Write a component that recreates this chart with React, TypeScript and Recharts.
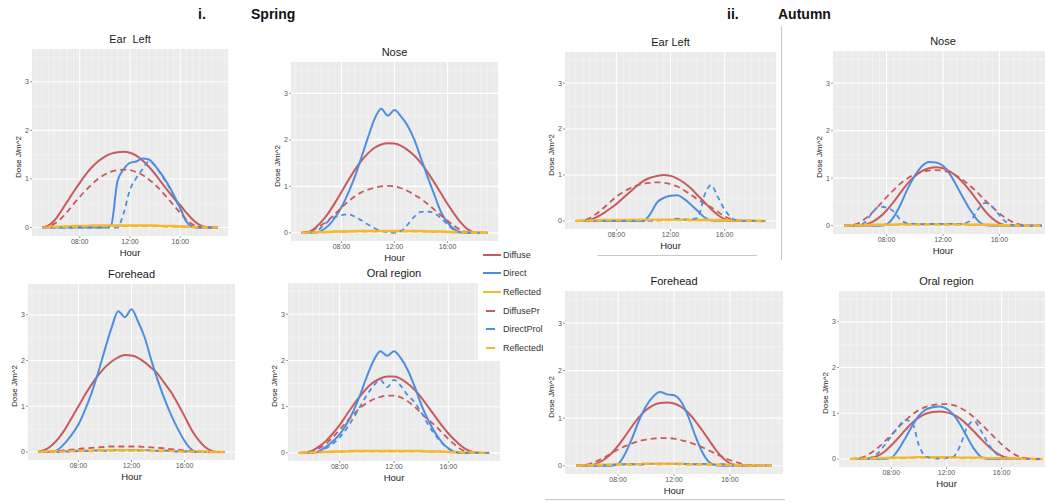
import React from 'react';
import { LineChart, Line, XAxis, YAxis, CartesianGrid } from 'recharts';

// ---------- shared axis data ----------
const HOURS = [5, 5.5, 6, 6.5, 7, 7.5, 8, 8.5, 9, 9.5, 10, 10.5, 11, 11.5, 12, 12.5, 13, 13.5, 14, 14.5, 15, 15.5, 16, 16.5, 17, 17.5, 18, 18.5, 19];
const X_TICKS = [8, 12, 16];
const X_TICK_LABELS = ['08:00', '12:00', '16:00'];
const Y_TICKS = [0, 1, 2, 3];
const MINOR_X = [4.5, 5, 5.5, 6, 6.5, 7, 7.5, 8.5, 9, 9.5, 10, 10.5, 11, 11.5, 12.5, 13, 13.5, 14, 14.5, 15, 15.5, 16.5, 17, 17.5, 18, 18.5, 19, 19.5];
const MINOR_Y = [0.5, 1.5, 2.5, 3.5];
const SERIES_LABELS = ['Diffuse', 'Direct', 'Reflected', 'DiffusePr', 'DirectProl', 'ReflectedI'];

// ---------- Spring: Ear Left ----------
const springEarDiffuse = [0, 0.04, 0.15, 0.33, 0.53, 0.73, 0.92, 1.1, 1.25, 1.37, 1.46, 1.52, 1.55, 1.56, 1.54, 1.48, 1.38, 1.25, 1.1, 0.93, 0.76, 0.6, 0.46, 0.3, 0.16, 0.06, 0.01, 0, 0];
const springEarDirect = [0, 0, 0, 0, 0, 0, 0, 0, 0, 0, 0, 0.05, 0.95, 1.2, 1.33, 1.36, 1.42, 1.4, 1.27, 1.1, 0.9, 0.66, 0.4, 0.12, 0.01, 0, 0, 0, 0];
const springEarReflected = [0, 0.01, 0.01, 0.02, 0.02, 0.03, 0.03, 0.03, 0.04, 0.04, 0.04, 0.04, 0.04, 0.04, 0.04, 0.04, 0.04, 0.04, 0.04, 0.03, 0.03, 0.03, 0.02, 0.02, 0.01, 0.01, 0.01, 0, 0];
const springEarDiffusePr = [0, 0.02, 0.08, 0.18, 0.32, 0.48, 0.63, 0.77, 0.9, 1.01, 1.09, 1.15, 1.18, 1.19, 1.18, 1.14, 1.08, 0.99, 0.88, 0.75, 0.6, 0.45, 0.3, 0.16, 0.06, 0.01, 0, 0, 0];
const springEarDirectPr = [0, 0, 0, 0, 0, 0, 0, 0, 0, 0, 0, 0, 0, 0.3, 0.78, 1.02, 1.2, 1.36, 1.27, 1.08, 0.88, 0.64, 0.38, 0.12, 0.02, 0, 0, 0, 0];
const springEarReflectedPr = [0, 0, 0.01, 0.01, 0.02, 0.02, 0.02, 0.03, 0.03, 0.03, 0.03, 0.03, 0.03, 0.03, 0.03, 0.03, 0.03, 0.03, 0.03, 0.03, 0.02, 0.02, 0.02, 0.01, 0.01, 0.01, 0, 0, 0];

// ---------- Spring: Nose ----------
const springNoseDiffuse = [0, 0.02, 0.1, 0.24, 0.42, 0.64, 0.88, 1.12, 1.35, 1.55, 1.71, 1.83, 1.9, 1.93, 1.92, 1.87, 1.78, 1.66, 1.5, 1.3, 1.08, 0.85, 0.62, 0.41, 0.22, 0.08, 0.01, 0, 0];
const springNoseDirect = [0, 0, 0, 0.05, 0.15, 0.32, 0.55, 0.85, 1.2, 1.62, 2.05, 2.45, 2.67, 2.52, 2.64, 2.5, 2.3, 2.0, 1.6, 1.2, 0.82, 0.45, 0.22, 0.08, 0.01, 0, 0, 0, 0];
const springNoseReflected = [0, 0.01, 0.01, 0.02, 0.02, 0.03, 0.03, 0.03, 0.04, 0.04, 0.04, 0.04, 0.04, 0.04, 0.04, 0.04, 0.04, 0.04, 0.04, 0.03, 0.03, 0.03, 0.02, 0.02, 0.01, 0.01, 0.01, 0, 0];
const springNoseDiffusePr = [0, 0.02, 0.08, 0.17, 0.27, 0.4, 0.54, 0.67, 0.78, 0.87, 0.93, 0.97, 1.0, 1.01, 1.0, 0.96, 0.9, 0.82, 0.73, 0.62, 0.5, 0.38, 0.26, 0.15, 0.06, 0.01, 0, 0, 0];
const springNoseDirectPr = [0, 0, 0.02, 0.12, 0.25, 0.34, 0.38, 0.4, 0.35, 0.27, 0.18, 0.1, 0.04, 0.01, 0, 0.04, 0.18, 0.35, 0.45, 0.46, 0.42, 0.32, 0.18, 0.06, 0.01, 0, 0, 0, 0];
const springNoseReflectedPr = [0, 0, 0.01, 0.01, 0.02, 0.02, 0.02, 0.03, 0.03, 0.03, 0.03, 0.03, 0.03, 0.03, 0.03, 0.03, 0.03, 0.03, 0.03, 0.03, 0.02, 0.02, 0.02, 0.01, 0.01, 0.01, 0, 0, 0];

// ---------- Spring: Forehead ----------
const springForeDiffuse = [0.01, 0.05, 0.15, 0.3, 0.5, 0.75, 1.0, 1.25, 1.48, 1.68, 1.85, 1.98, 2.07, 2.12, 2.11, 2.06, 1.96, 1.84, 1.7, 1.5, 1.3, 1.05, 0.78, 0.5, 0.28, 0.12, 0.03, 0, 0];
const springForeDirect = [0, 0, 0, 0.06, 0.2, 0.38, 0.6, 0.92, 1.3, 1.75, 2.25, 2.72, 3.08, 2.95, 3.12, 2.85, 2.5, 2.0, 1.55, 1.15, 0.8, 0.5, 0.24, 0.06, 0, 0, 0, 0, 0];
const springForeReflected = [0, 0.01, 0.01, 0.02, 0.02, 0.03, 0.03, 0.03, 0.03, 0.04, 0.04, 0.04, 0.04, 0.04, 0.04, 0.04, 0.04, 0.03, 0.03, 0.03, 0.03, 0.02, 0.02, 0.02, 0.01, 0.01, 0, 0, 0];
const springForeDiffusePr = [0, 0, 0.01, 0.02, 0.04, 0.05, 0.07, 0.08, 0.09, 0.1, 0.11, 0.12, 0.12, 0.12, 0.12, 0.12, 0.11, 0.1, 0.09, 0.08, 0.06, 0.05, 0.03, 0.02, 0.01, 0, 0, 0, 0];
const springForeDirectPr = [0, 0, 0, 0, 0.01, 0.01, 0.02, 0.02, 0.03, 0.03, 0.02, 0.03, 0.04, 0.03, 0.04, 0.03, 0.04, 0.03, 0.02, 0.03, 0.02, 0.01, 0.01, 0, 0, 0, 0, 0, 0];
const springForeReflectedPr = [0, 0, 0.01, 0.01, 0.01, 0.02, 0.02, 0.02, 0.02, 0.03, 0.03, 0.03, 0.03, 0.03, 0.03, 0.03, 0.03, 0.02, 0.02, 0.02, 0.02, 0.02, 0.01, 0.01, 0.01, 0, 0, 0, 0];

// ---------- Spring: Oral region ----------
const springOralDiffuse = [0, 0.01, 0.05, 0.14, 0.26, 0.42, 0.6, 0.82, 1.03, 1.23, 1.4, 1.53, 1.61, 1.65, 1.65, 1.6, 1.5, 1.37, 1.2, 1.0, 0.8, 0.6, 0.42, 0.27, 0.14, 0.05, 0.01, 0, 0];
const springOralDirect = [0, 0, 0, 0.04, 0.13, 0.25, 0.4, 0.62, 0.9, 1.25, 1.65, 2.0, 2.2, 2.1, 2.2, 2.05, 1.8, 1.45, 1.05, 0.72, 0.45, 0.24, 0.1, 0.02, 0, 0, 0, 0, 0];
const springOralReflected = [0, 0.01, 0.01, 0.02, 0.02, 0.03, 0.03, 0.03, 0.04, 0.04, 0.04, 0.04, 0.04, 0.04, 0.04, 0.04, 0.04, 0.04, 0.04, 0.03, 0.03, 0.03, 0.02, 0.02, 0.01, 0.01, 0.01, 0, 0];
const springOralDiffusePr = [0, 0.01, 0.04, 0.1, 0.2, 0.34, 0.5, 0.67, 0.83, 0.97, 1.08, 1.16, 1.21, 1.24, 1.24, 1.2, 1.12, 1.0, 0.86, 0.72, 0.6, 0.45, 0.3, 0.17, 0.07, 0.01, 0, 0, 0];
const springOralDirectPr = [0, 0, 0, 0.03, 0.1, 0.2, 0.33, 0.52, 0.75, 1.0, 1.25, 1.45, 1.58, 1.42, 1.58, 1.45, 1.25, 1.1, 0.88, 0.62, 0.4, 0.22, 0.09, 0.02, 0, 0, 0, 0, 0];
const springOralReflectedPr = [0, 0, 0.01, 0.01, 0.02, 0.02, 0.02, 0.03, 0.03, 0.03, 0.03, 0.03, 0.03, 0.03, 0.03, 0.03, 0.03, 0.03, 0.03, 0.03, 0.02, 0.02, 0.02, 0.01, 0.01, 0.01, 0, 0, 0];

// ---------- Autumn: Ear Left ----------
const autumnEarDiffuse = [0, 0, 0.02, 0.08, 0.16, 0.26, 0.37, 0.5, 0.63, 0.76, 0.87, 0.94, 0.98, 1.0, 0.98, 0.92, 0.83, 0.71, 0.56, 0.41, 0.26, 0.13, 0.04, 0.01, 0, 0, 0, 0, 0];
const autumnEarDirect = [0, 0, 0, 0, 0, 0, 0, 0, 0, 0, 0, 0.15, 0.4, 0.5, 0.55, 0.56, 0.48, 0.36, 0.22, 0.08, 0.01, 0, 0, 0, 0, 0, 0, 0, 0];
const autumnEarReflected = [0, 0.01, 0.01, 0.01, 0.02, 0.02, 0.02, 0.02, 0.02, 0.03, 0.03, 0.03, 0.03, 0.03, 0.03, 0.03, 0.03, 0.02, 0.02, 0.02, 0.02, 0.02, 0.01, 0.01, 0.01, 0.01, 0.01, 0, 0];
const autumnEarDiffusePr = [0, 0.01, 0.06, 0.15, 0.27, 0.4, 0.53, 0.63, 0.71, 0.77, 0.81, 0.83, 0.84, 0.83, 0.8, 0.75, 0.67, 0.57, 0.47, 0.38, 0.3, 0.2, 0.1, 0.04, 0.01, 0, 0, 0, 0];
const autumnEarDirectPr = [0, 0, 0, 0, 0, 0, 0, 0, 0, 0, 0, 0, 0.01, 0.02, 0.03, 0.05, 0.03, 0.04, 0.06, 0.55, 0.78, 0.52, 0.25, 0.07, 0.01, 0, 0, 0, 0];
const autumnEarReflectedPr = [0, 0, 0.01, 0.01, 0.01, 0.02, 0.02, 0.02, 0.02, 0.02, 0.02, 0.02, 0.02, 0.02, 0.02, 0.02, 0.02, 0.02, 0.02, 0.02, 0.02, 0.01, 0.01, 0.01, 0.01, 0, 0, 0, 0];

// ---------- Autumn: Nose ----------
const autumnNoseDiffuse = [0, 0, 0, 0.02, 0.08, 0.18, 0.32, 0.5, 0.7, 0.89, 1.04, 1.15, 1.21, 1.23, 1.21, 1.14, 1.03, 0.88, 0.7, 0.5, 0.3, 0.15, 0.05, 0.01, 0, 0, 0, 0, 0];
const autumnNoseDirect = [0, 0, 0, 0, 0, 0, 0.03, 0.18, 0.45, 0.78, 1.05, 1.25, 1.34, 1.33, 1.26, 1.08, 0.82, 0.55, 0.3, 0.1, 0.01, 0, 0, 0, 0, 0, 0, 0, 0];
const autumnNoseReflected = [0, 0.01, 0.01, 0.01, 0.02, 0.02, 0.02, 0.02, 0.03, 0.03, 0.03, 0.03, 0.03, 0.03, 0.03, 0.03, 0.03, 0.03, 0.02, 0.02, 0.02, 0.02, 0.01, 0.01, 0.01, 0.01, 0.01, 0, 0];
const autumnNoseDiffusePr = [0, 0.01, 0.05, 0.15, 0.28, 0.44, 0.6, 0.75, 0.89, 1.0, 1.08, 1.13, 1.16, 1.17, 1.16, 1.12, 1.04, 0.94, 0.82, 0.68, 0.53, 0.39, 0.26, 0.15, 0.07, 0.02, 0, 0, 0];
const autumnNoseDirectPr = [0, 0, 0.01, 0.08, 0.28, 0.4, 0.38, 0.3, 0.12, 0.05, 0.04, 0.03, 0.04, 0.03, 0.04, 0.04, 0.03, 0.05, 0.12, 0.35, 0.48, 0.4, 0.22, 0.07, 0.01, 0, 0, 0, 0];
const autumnNoseReflectedPr = [0, 0, 0.01, 0.01, 0.01, 0.02, 0.02, 0.02, 0.02, 0.02, 0.02, 0.02, 0.02, 0.02, 0.02, 0.02, 0.02, 0.02, 0.02, 0.02, 0.02, 0.01, 0.01, 0.01, 0.01, 0, 0, 0, 0];

// ---------- Autumn: Forehead ----------
const autumnForeDiffuse = [0, 0, 0.01, 0.05, 0.13, 0.25, 0.42, 0.62, 0.83, 1.02, 1.17, 1.27, 1.32, 1.33, 1.31, 1.24, 1.12, 0.95, 0.75, 0.54, 0.33, 0.16, 0.05, 0.01, 0, 0, 0, 0, 0];
const autumnForeDirect = [0, 0, 0, 0, 0, 0, 0.04, 0.25, 0.58, 0.95, 1.25, 1.45, 1.55, 1.5, 1.48, 1.35, 1.05, 0.65, 0.3, 0.08, 0.01, 0, 0, 0, 0, 0, 0, 0, 0];
const autumnForeReflected = [0, 0.01, 0.01, 0.02, 0.02, 0.02, 0.03, 0.03, 0.03, 0.03, 0.04, 0.04, 0.04, 0.04, 0.04, 0.04, 0.03, 0.03, 0.03, 0.03, 0.02, 0.02, 0.02, 0.01, 0.01, 0.01, 0.01, 0, 0];
const autumnForeDiffusePr = [0, 0.01, 0.04, 0.1, 0.17, 0.26, 0.34, 0.41, 0.47, 0.52, 0.55, 0.57, 0.58, 0.58, 0.57, 0.54, 0.5, 0.45, 0.39, 0.32, 0.25, 0.18, 0.12, 0.07, 0.03, 0.01, 0, 0, 0];
const autumnForeDirectPr = [0, 0, 0, 0, 0.01, 0.02, 0.02, 0.03, 0.03, 0.02, 0.03, 0.04, 0.03, 0.04, 0.04, 0.03, 0.04, 0.03, 0.04, 0.03, 0.02, 0.03, 0.02, 0.01, 0.01, 0, 0, 0, 0];
const autumnForeReflectedPr = [0, 0, 0.01, 0.01, 0.01, 0.02, 0.02, 0.02, 0.02, 0.03, 0.03, 0.03, 0.03, 0.03, 0.03, 0.03, 0.02, 0.02, 0.02, 0.02, 0.02, 0.02, 0.01, 0.01, 0.01, 0, 0, 0, 0];

// ---------- Autumn: Oral region ----------
const autumnOralDiffuse = [0, 0, 0, 0.02, 0.07, 0.16, 0.3, 0.46, 0.63, 0.79, 0.91, 0.99, 1.03, 1.04, 1.02, 0.97, 0.88, 0.75, 0.6, 0.44, 0.29, 0.16, 0.07, 0.02, 0, 0, 0, 0, 0];
const autumnOralDirect = [0, 0, 0, 0, 0, 0, 0.03, 0.2, 0.45, 0.72, 0.95, 1.08, 1.13, 1.15, 1.1, 0.97, 0.75, 0.48, 0.22, 0.05, 0, 0, 0, 0, 0, 0, 0, 0, 0];
const autumnOralReflected = [0, 0.01, 0.01, 0.02, 0.02, 0.02, 0.03, 0.03, 0.03, 0.03, 0.04, 0.04, 0.04, 0.04, 0.04, 0.04, 0.03, 0.03, 0.03, 0.03, 0.02, 0.02, 0.02, 0.01, 0.01, 0.01, 0.01, 0, 0];
const autumnOralDiffusePr = [0, 0.01, 0.05, 0.13, 0.24, 0.38, 0.53, 0.69, 0.84, 0.97, 1.07, 1.14, 1.18, 1.2, 1.2, 1.18, 1.12, 1.03, 0.91, 0.77, 0.62, 0.47, 0.32, 0.19, 0.09, 0.03, 0, 0, 0];
const autumnOralDirectPr = [0, 0, 0, 0.03, 0.12, 0.3, 0.5, 0.7, 0.85, 0.8, 0.3, 0.05, 0.02, 0.01, 0.02, 0.05, 0.3, 0.7, 0.83, 0.62, 0.35, 0.15, 0.04, 0, 0, 0, 0, 0, 0];
const autumnOralReflectedPr = [0, 0, 0.01, 0.01, 0.01, 0.02, 0.02, 0.02, 0.02, 0.03, 0.03, 0.03, 0.03, 0.03, 0.03, 0.03, 0.02, 0.02, 0.02, 0.02, 0.02, 0.02, 0.01, 0.01, 0.01, 0, 0, 0, 0];

// ---------- styling / layout ----------
const X_DOMAIN: [number, number] = [4.2, 19.8];
const Y_DOMAIN: [number, number] = [-0.175, 3.675];
const RED = '#C95A5D';
const BLUE = '#4C8FE2';
const YELLOW = '#F5B82E';
const FONT = '"Liberation Sans", Arial, "DejaVu Sans", sans-serif';

const SERIES_STYLE = [
  { key: 'diffuse', color: RED, dash: undefined, width: 2 },
  { key: 'direct', color: BLUE, dash: undefined, width: 2 },
  { key: 'reflected', color: YELLOW, dash: undefined, width: 2.4 },
  { key: 'diffusePr', color: RED, dash: '6 4', width: 1.8 },
  { key: 'directPr', color: BLUE, dash: '5 4', width: 1.8 },
  { key: 'reflectedPr', color: YELLOW, dash: '6 4', width: 2.2 },
];

type SeriesSet = number[][];

const PANELS: { title: string; L: number; T: number; W: number; H: number; series: SeriesSet }[] = [
  { title: 'Ear  Left', L: 32, T: 49, W: 196, H: 187, series: [springEarDiffuse, springEarDirect, springEarReflected, springEarDiffusePr, springEarDirectPr, springEarReflectedPr] },
  { title: 'Nose', L: 291, T: 62, W: 207, H: 179, series: [springNoseDiffuse, springNoseDirect, springNoseReflected, springNoseDiffusePr, springNoseDirectPr, springNoseReflectedPr] },
  { title: 'Forehead', L: 28, T: 284, W: 207, H: 176, series: [springForeDiffuse, springForeDirect, springForeReflected, springForeDiffusePr, springForeDirectPr, springForeReflectedPr] },
  { title: 'Oral region', L: 288, T: 283, W: 212, H: 178, series: [springOralDiffuse, springOralDirect, springOralReflected, springOralDiffusePr, springOralDirectPr, springOralReflectedPr] },
  { title: 'Ear Left', L: 565, T: 52, W: 211, H: 177, series: [autumnEarDiffuse, autumnEarDirect, autumnEarReflected, autumnEarDiffusePr, autumnEarDirectPr, autumnEarReflectedPr] },
  { title: 'Nose', L: 833, T: 51, W: 220, H: 183, series: [autumnNoseDiffuse, autumnNoseDirect, autumnNoseReflected, autumnNoseDiffusePr, autumnNoseDirectPr, autumnNoseReflectedPr] },
  { title: 'Forehead', L: 565, T: 291, W: 218, H: 183, series: [autumnForeDiffuse, autumnForeDirect, autumnForeReflected, autumnForeDiffusePr, autumnForeDirectPr, autumnForeReflectedPr] },
  { title: 'Oral region', L: 839, T: 291, W: 215, H: 176, series: [autumnOralDiffuse, autumnOralDirect, autumnOralReflected, autumnOralDiffusePr, autumnOralDirectPr, autumnOralReflectedPr] },
];

const PAD_L = 30;
const PAD_T = 4;
const PAD_R = 4;
const PAD_B = 14;

function fmtHour(v: number) {
  const i = X_TICKS.indexOf(v);
  return i >= 0 ? X_TICK_LABELS[i] : '';
}

function Panel({ p }: { p: (typeof PANELS)[number] }) {
  const rows = HOURS.map((h, i) => {
    const r: Record<string, number> = { h };
    SERIES_STYLE.forEach((s, k) => {
      r[s.key] = p.series[k][i];
    });
    return r;
  });
  const cw = p.W + PAD_L + PAD_R;
  const ch = p.H + PAD_T + PAD_B;
  return (
    <>
      <div
        style={{
          position: 'absolute',
          left: p.L,
          width: p.W,
          top: p.T - 16,
          textAlign: 'center',
          fontSize: 11,
          color: '#1a1a1a',
          fontFamily: FONT,
          whiteSpace: 'pre',
        }}
      >
        {p.title}
      </div>
      <div style={{ position: 'absolute', left: p.L - PAD_L, top: p.T - PAD_T }}>
        <LineChart width={cw} height={ch} data={rows} margin={{ top: PAD_T, right: PAD_R, left: 0, bottom: 0 }}>
          <CartesianGrid
            fill="#EBEBEB"
            stroke="#F7F7F7"
            strokeWidth={0.6}
            horizontalValues={MINOR_Y}
            verticalValues={MINOR_X}
          />
          <CartesianGrid stroke="#FFFFFF" strokeWidth={1.1} horizontalValues={Y_TICKS} verticalValues={X_TICKS} />
          <XAxis
            type="number"
            dataKey="h"
            domain={X_DOMAIN}
            ticks={X_TICKS}
            interval={0}
            tickFormatter={fmtHour}
            allowDataOverflow
            axisLine={false}
            tickSize={2}
            tickMargin={1}
            height={PAD_B}
            tickLine={{ stroke: '#555', strokeWidth: 0.6 }}
            tick={{ fontSize: 7, fill: '#555', fontFamily: FONT }}
          />
          <YAxis
            type="number"
            domain={Y_DOMAIN}
            ticks={Y_TICKS}
            interval={0}
            allowDataOverflow
            axisLine={false}
            tickSize={2}
            tickMargin={1}
            width={PAD_L}
            tickLine={{ stroke: '#555', strokeWidth: 0.6 }}
            tick={{ fontSize: 7, fill: '#555', fontFamily: FONT }}
          />
          {SERIES_STYLE.map((s) => (
            <Line
              key={s.key}
              type="monotone"
              dataKey={s.key}
              stroke={s.color}
              strokeWidth={s.width}
              strokeDasharray={s.dash}
              dot={false}
              activeDot={false}
              isAnimationActive={false}
            />
          ))}
        </LineChart>
      </div>
      <div
        style={{
          position: 'absolute',
          left: p.L,
          width: p.W,
          top: p.T + p.H + 11,
          textAlign: 'center',
          fontSize: 9.5,
          color: '#1a1a1a',
          fontFamily: FONT,
        }}
      >
        Hour
      </div>
      <div
        style={{
          position: 'absolute',
          left: p.L - 13 - 50,
          width: 100,
          top: p.T + p.H * 0.58 - 6,
          textAlign: 'center',
          fontSize: 8,
          color: '#1a1a1a',
          fontFamily: FONT,
          transform: 'rotate(-90deg)',
          transformOrigin: '50% 50%',
          lineHeight: '12px',
        }}
      >
        Dose J/m^2
      </div>
    </>
  );
}

function Legend() {
  const rowsY = [255, 273, 292, 311, 329, 348];
  return (
    <div
      style={{
        position: 'absolute',
        left: 478,
        top: 241,
        width: 70,
        height: 120,
        background: '#FFFFFF',
        overflow: 'hidden',
      }}
    >
      {SERIES_STYLE.map((s, i) => (
        <div key={s.key} style={{ position: 'absolute', left: 0, top: rowsY[i] - 241 - 7, height: 14, width: 70 }}>
          <svg width={22} height={14} style={{ position: 'absolute', left: 3, top: 0 }}>
            {s.dash ? (
              <line x1={5} y1={7} x2={14} y2={7} stroke={s.color} strokeWidth={2} />
            ) : (
              <line x1={2} y1={7} x2={20} y2={7} stroke={s.color} strokeWidth={2} />
            )}
          </svg>
          <div
            style={{
              position: 'absolute',
              left: 25,
              top: 0,
              lineHeight: '14px',
              fontSize: 9,
              color: '#333',
              fontFamily: FONT,
              whiteSpace: 'nowrap',
            }}
          >
            {SERIES_LABELS[i]}
          </div>
        </div>
      ))}
    </div>
  );
}

export default function App() {
  return (
    <div
      style={{
        position: 'absolute',
        left: 0,
        top: 0,
        width: 1045,
        height: 502,
        background: '#FFFFFF',
        overflow: 'hidden',
        fontFamily: FONT,
      }}
    >
      {PANELS.map((p, i) => (
        <Panel key={i} p={p} />
      ))}
      <Legend />
      {/* section headers */}
      <div style={{ position: 'absolute', left: 198, top: 6, fontSize: 14, fontWeight: 700, color: '#111', fontFamily: FONT }}>i.</div>
      <div style={{ position: 'absolute', left: 251, top: 6, fontSize: 14, fontWeight: 700, color: '#111', fontFamily: FONT }}>Spring</div>
      <div style={{ position: 'absolute', left: 727, top: 6, fontSize: 14, fontWeight: 700, color: '#111', fontFamily: FONT }}>ii.</div>
      <div style={{ position: 'absolute', left: 778, top: 6, fontSize: 14, fontWeight: 700, color: '#111', fontFamily: FONT }}>Autumn</div>
      {/* composite image borders */}
      <div style={{ position: 'absolute', left: 781, top: 26, width: 1, height: 234, background: '#C8C8C8' }} />
      <div style={{ position: 'absolute', left: 597, top: 255, width: 160, height: 1, background: '#C8C8C8' }} />
      <div style={{ position: 'absolute', left: 545, top: 499, width: 240, height: 1, background: '#C8C8C8' }} />
    </div>
  );
}
